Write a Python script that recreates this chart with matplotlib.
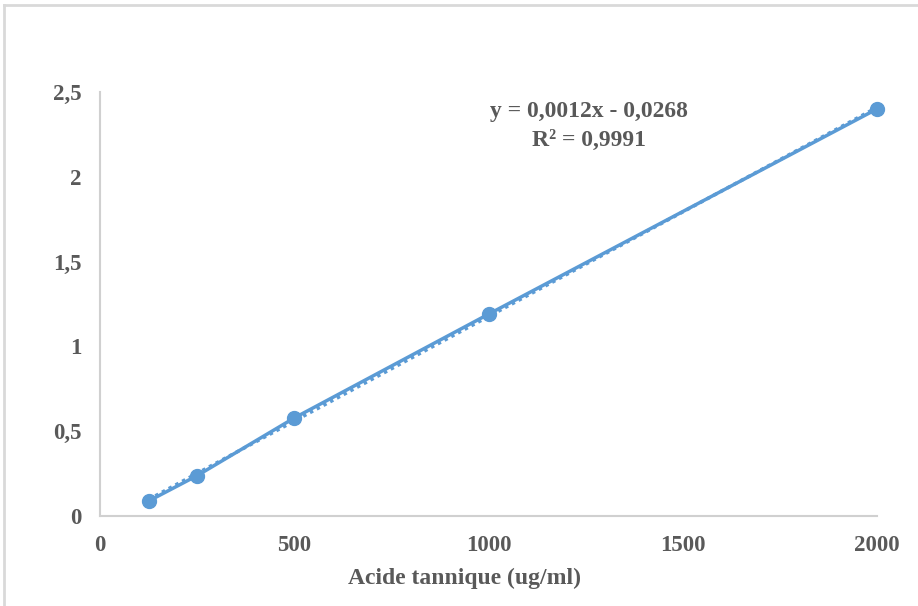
import matplotlib
matplotlib.use("Agg")
from matplotlib import pyplot as plt
import numpy as np

# data
concentration = [125, 250, 500, 1000, 2000]
absorbance = [0.088, 0.238, 0.578, 1.19, 2.40]
x_ticks = [0, 500, 1000, 1500, 2000]
y_ticks = [0, 0.5, 1, 1.5, 2, 2.5]
y_tick_labels = ["0", "0,5", "1", "1,5", "2", "2,5"]

blue = "#5b9bd5"
grey = "#595959"
serif = ["Liberation Serif", "DejaVu Serif"]

fig = plt.figure(figsize=(9.18, 6.06), dpi=100)
ax = fig.add_axes([100 / 918, 90 / 606, 777 / 918, 424 / 606])

# linear trendline (dotted), like the Excel one
slope, intercept = np.polyfit(concentration, absorbance, 1)
xs = np.array([concentration[0], concentration[-1]])
ax.plot(xs, slope * xs + intercept, color=blue, lw=2.5, ls=(0, (1, 1.2)), zorder=2)

ax.plot(concentration, absorbance, color=blue, lw=2.5, marker="o", ms=10, zorder=3,
        clip_on=False)

ax.set_xlim(0, 2000)
ax.set_ylim(0, 2.5)
ax.set_xticks(x_ticks)
ax.set_xticklabels([str(t) for t in x_ticks])
ax.set_yticks(y_ticks)
ax.set_yticklabels(y_tick_labels)
for lbl in ax.get_xticklabels() + ax.get_yticklabels():
    lbl.set_fontfamily(serif)
    lbl.set_fontweight("bold")
    lbl.set_fontsize(16.5)
    lbl.set_color(grey)
ax.tick_params(axis="both", length=0)
ax.tick_params(axis="x", pad=14)
ax.tick_params(axis="y", pad=13)

ax.spines["top"].set_visible(False)
ax.spines["right"].set_visible(False)
ax.spines["left"].set_color("#d0d0d0")
ax.spines["bottom"].set_color("#d0d0d0")
ax.spines["left"].set_linewidth(1.5)
ax.spines["bottom"].set_linewidth(1.5)

fig.text(464 / 918, 1 - 578 / 606, "Acide tannique (ug/ml)", ha="center", va="center",
         fontfamily=serif, fontweight="bold", fontsize=17, color=grey)
fig.text(589 / 918, 1 - 112 / 606, "y = 0,0012x - 0,0268", ha="center", va="center",
         fontfamily=serif, fontweight="bold", fontsize=17, color=grey)
fig.text(589 / 918, 1 - 140 / 606, "R² = 0,9991", ha="center", va="center",
         fontfamily=serif, fontweight="bold", fontsize=17, color=grey)

# outer chart frame (left and top edges visible)
fig.add_artist(plt.Line2D([4 / 918, 4 / 918], [0, 1 - 5 / 606], transform=fig.transFigure,
                          color="#d9d9d9", lw=2))
fig.add_artist(plt.Line2D([4 / 918, 1], [1 - 5 / 606, 1 - 5 / 606], transform=fig.transFigure,
                          color="#d9d9d9", lw=2))

plt.savefig("out.png", dpi=100)
